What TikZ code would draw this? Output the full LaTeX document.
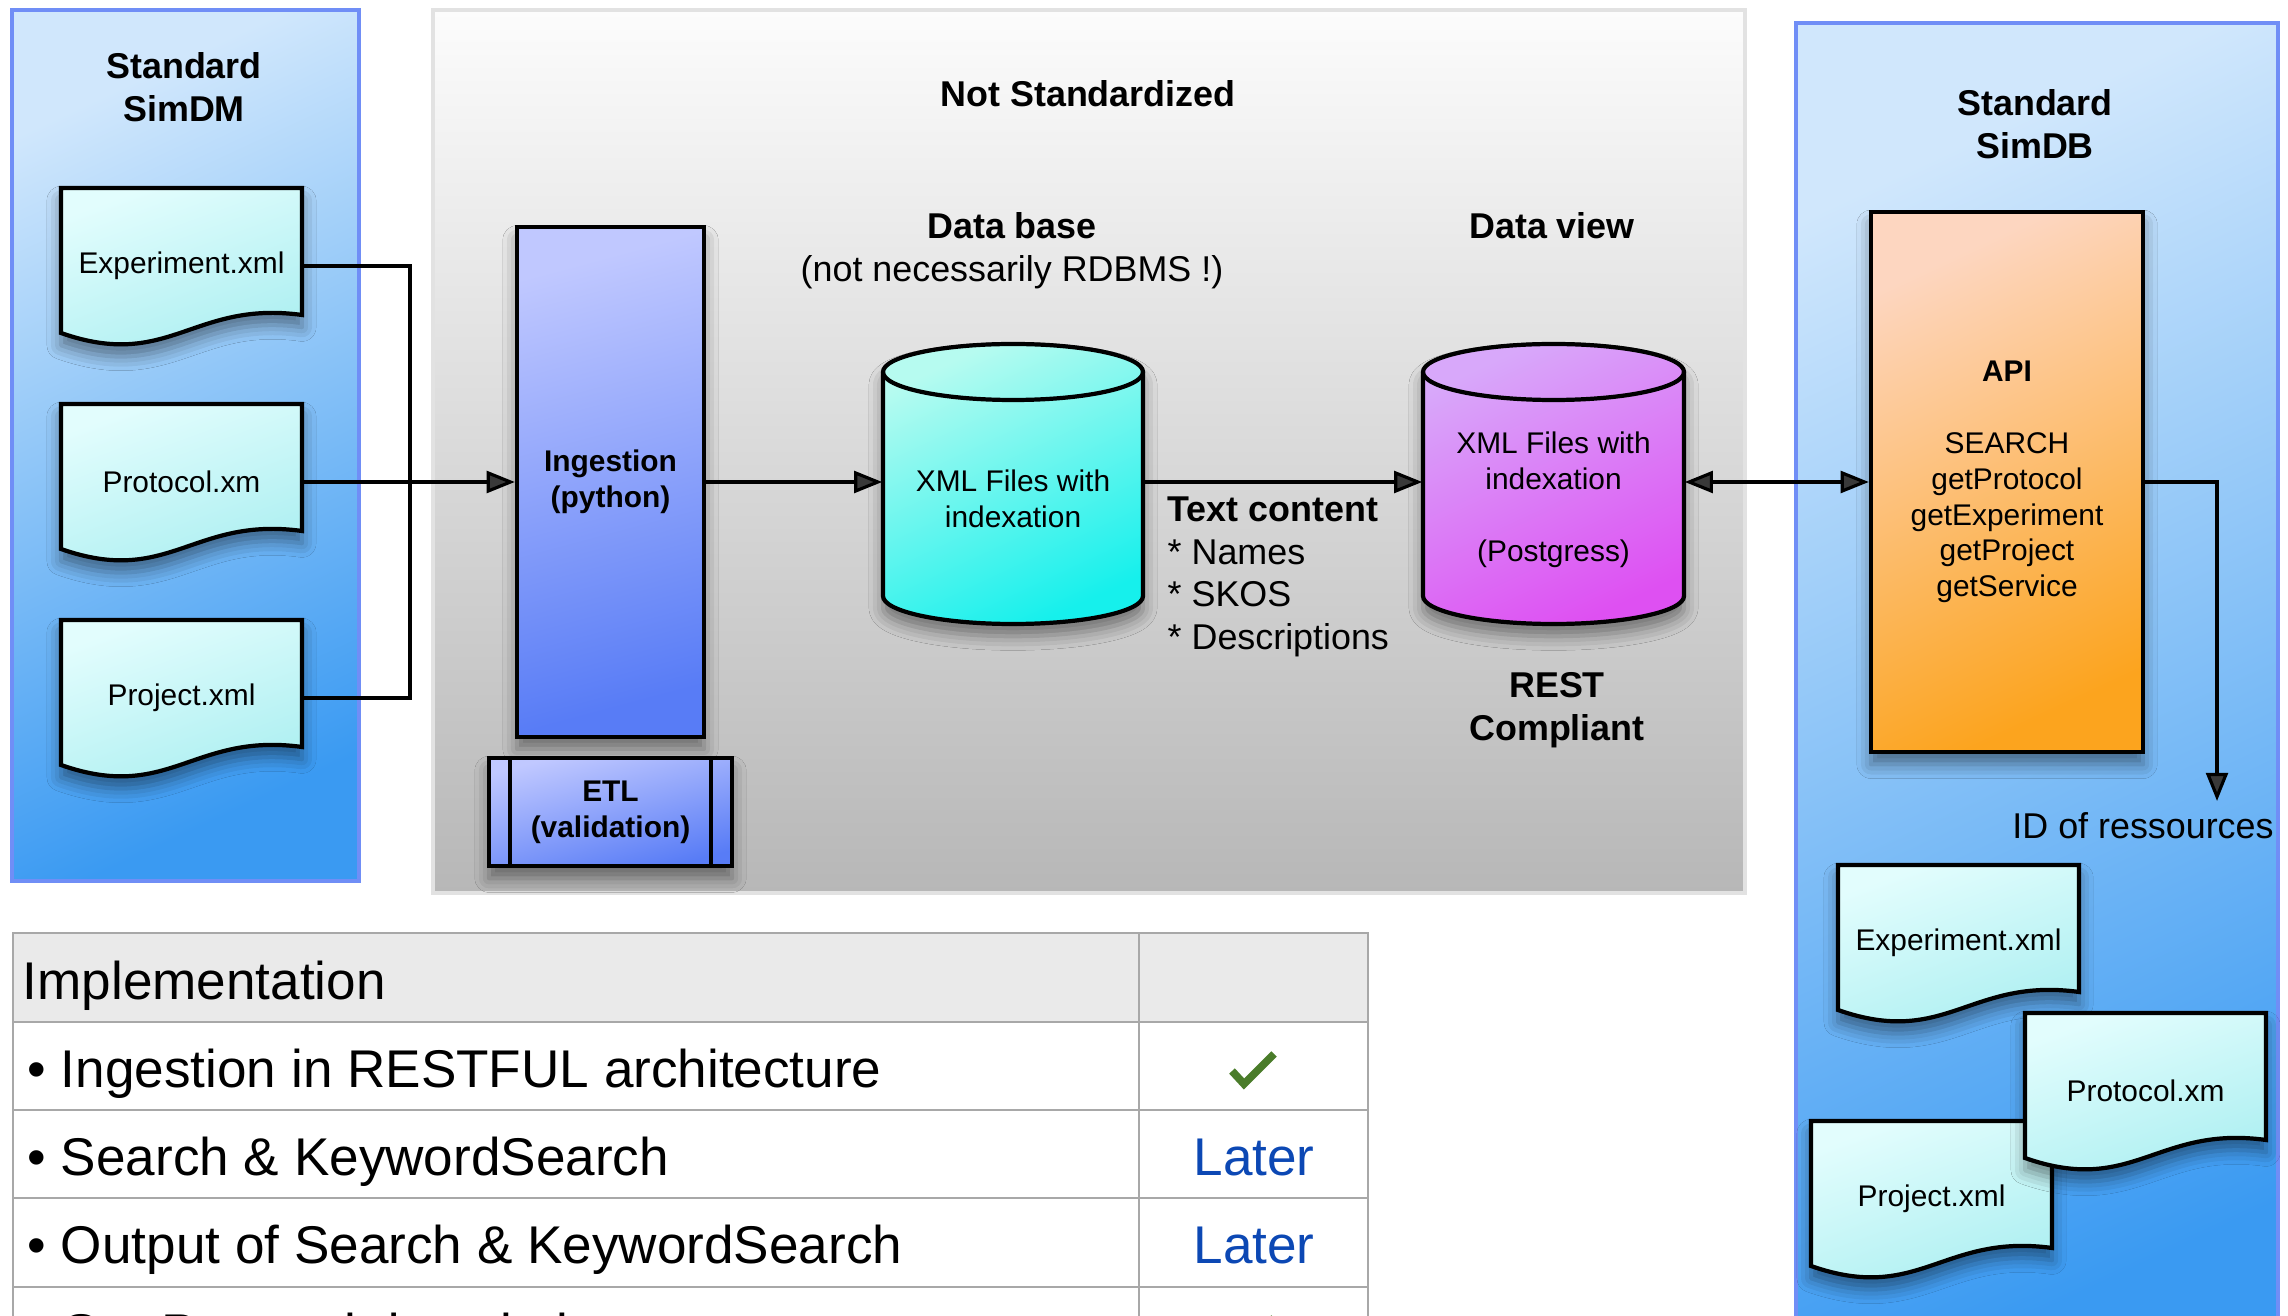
\documentclass[tikz,border=0pt]{standalone}
\usepackage{fontspec}
\setmainfont{Liberation Sans}
\usetikzlibrary{arrows.meta,shadows.blur}

\definecolor{paneltop}{RGB}{208,231,252}
\definecolor{panelbot}{RGB}{58,154,242}
\definecolor{panelline}{RGB}{112,142,246}
\definecolor{greytop}{RGB}{252,252,252}
\definecolor{greybot}{RGB}{183,183,183}
\definecolor{greyline}{RGB}{226,226,226}
\definecolor{papertop}{RGB}{226,253,253}
\definecolor{paperbot}{RGB}{168,238,240}
\definecolor{ingtop}{RGB}{192,200,255}
\definecolor{ingbot}{RGB}{88,124,246}
\definecolor{dbtop}{RGB}{182,251,240}
\definecolor{dbbot}{RGB}{22,240,236}
\definecolor{viewtop}{RGB}{216,168,250}
\definecolor{viewbot}{RGB}{222,80,242}
\definecolor{apitop}{RGB}{253,214,192}
\definecolor{apibot}{RGB}{252,164,30}
\definecolor{tablehead}{RGB}{234,234,234}
\definecolor{tableline}{RGB}{168,168,168}
\definecolor{donegreen}{RGB}{74,124,42}
\definecolor{laterblue}{RGB}{12,72,180}

\tikzset{
  bigtext/.style={font=\fontsize{10.2}{12.1}\selectfont, align=center},
  heading/.style={font=\fontsize{10.2}{12.1}\selectfont\bfseries, align=center},
  smalltext/.style={font=\fontsize{8.5}{10.2}\selectfont, align=center},
  boldsmall/.style={font=\fontsize{8.5}{10.2}\selectfont\bfseries, align=center},
  tabletext/.style={font=\fontsize{15.1}{18}\selectfont, anchor=base west, inner sep=0pt},
  flow/.style={line width=0.9pt, -{Triangle[length=8pt,width=6.2pt]}},
  wire/.style={line width=0.9pt},
  softshadow/.style={blur shadow={shadow xshift=0pt, shadow yshift=-3.5pt,
      shadow blur radius=4pt, shadow opacity=45}},
  box/.style={draw, line width=1.2pt, softshadow, smalltext, inner sep=0pt},
  panel/.style={draw=panelline, line width=0.9pt, top color=paneltop,
      bottom color=panelbot, shading angle=25},
  paper/.style={draw, line width=1.2pt, softshadow, top color=papertop,
      bottom color=paperbot, shading angle=20},
}

% xml page with a wavy lower edge, top left corner at (#2,#3)
\newcommand{\xmldoc}[4]{%
  \begin{scope}[shift={(#2,#3)}]
    \path[paper] (0,0) -- (241,0) -- (241,127)
      .. controls (132,112) and (108,183) .. (0,145) -- cycle;
    \node[smalltext, minimum width=2.41cm, inner sep=0pt] (#1) at (120.5,78) {#4};
  \end{scope}}

% storage drum, centre x #1, half width #2
\newcommand{\drum}[4]{%
  \path[draw, line width=1.2pt, softshadow, top color=#3, bottom color=#4, shading angle=25]
    (#1-#2,372) -- (#1-#2,596) arc[start angle=180, end angle=0, x radius=#2, y radius=28]
    -- (#1+#2,372) arc[start angle=0, end angle=-180, x radius=#2, y radius=28] -- cycle;
  \draw[line width=1.2pt] (#1-#2,372) arc[start angle=180, end angle=0, x radius=#2, y radius=28];}

\begin{document}
\begin{tikzpicture}[x=0.01cm, y=-0.01cm]
    \useasboundingbox (0,0) rectangle (2288,1316);
    \clip (0,0) rectangle (2288,1316);

    % the three areas
    \path[panel] (12,10) rectangle (359,881);
    \path[draw=greyline, line width=0.9pt, top color=greytop, bottom color=greybot] (433,10) rectangle (1745,893);
    \path[panel] (1796,23) rectangle (2278,1400);

    \node[heading] (simdmtitle) at (184,87) {Standard\\SimDM};
    \node[heading] (notstd) at (1088,94) {Not Standardized};
    \node[heading] (simdbtitle) at (2035,124) {Standard\\SimDB};

    % SimDM input files
    \xmldoc{expL}{61}{188}{Experiment.xml}
    \xmldoc{protL}{61}{404}{Protocol.xm}
    \xmldoc{projL}{61}{620}{Project.xml}

    % ingestion
    \node[box, boldsmall, minimum width=1.87cm, minimum height=5.09cm, top color=ingtop,
          bottom color=ingbot, shading angle=15] (ingest) at (610.5,482) {Ingestion\\(python)};
    \node[box, boldsmall, minimum width=2.43cm, minimum height=1.08cm, top color=ingtop,
          bottom color=ingbot, shading angle=15] (etl) at (610.5,812) {ETL\\(validation)};
    \draw[line width=1.2pt] ([xshift=0.235cm]etl.north west) -- ([xshift=0.235cm]etl.south west);
    \draw[line width=1.2pt] ([xshift=-0.235cm]etl.north east) -- ([xshift=-0.235cm]etl.south east);

    % data base and data view
    \node[bigtext] (dbtitle) at (1012,251) {\textbf{Data base}\\(not necessarily RDBMS !)};
    \drum{1013}{130}{dbtop}{dbbot}
    \node[minimum width=2.6cm, minimum height=2.8cm] (db) at (1013,482) {};
    \node[smalltext] (dbtext) at (1013,499) {XML Files with\\indexation};

    \node[heading] (viewtitle) at (1552,226) {Data view};
    \drum{1553.5}{130.5}{viewtop}{viewbot}
    \node[minimum width=2.61cm, minimum height=2.8cm] (view) at (1553.5,482) {};
    \node[smalltext] (viewtext) at (1553.5,500) {XML Files with\\indexation\\[10.2pt](Postgress)};
    \node[heading] (rest) at (1557,710) {REST\\Compliant};

    \node[bigtext, align=left, anchor=west, inner sep=0pt] (textcontent) at (1167,577)
        {\textbf{Text content}\\* Names\\* SKOS\\* Descriptions};

    % API
    \node[box, minimum width=2.72cm, minimum height=5.4cm, top color=apitop,
          bottom color=apibot, shading angle=25] (api) at (2007,482)
        {\textbf{API}\\[10.2pt]SEARCH\\getProtocol\\getExperiment\\getProject\\getService};
    \node[bigtext] (ids) at (2143,826) {ID of ressources};

    % SimDB output files
    \xmldoc{expR}{1838}{865}{Experiment.xml}
    \xmldoc{projR}{1811}{1121}{Project.xml}
    \xmldoc{protR}{2025}{1013}{Protocol.xm}

    % connectors
    \coordinate (merge) at (410,482);
    \draw[wire] (expL.east) -| (merge) |- (projL.east);
    \draw[flow] (protL.east) -- (ingest.west);
    \draw[flow] (ingest.east) -- (db.west);
    \draw[flow] (db.east) -- (view.west);
    \draw[line width=0.9pt, {Triangle[length=8pt,width=6.2pt]}-{Triangle[length=8pt,width=6.2pt]}] (view.east) -- (api.west);
    \coordinate (idtip) at (2217,801);
    \draw[flow] (api.east) -| (idtip);

    % implementation table
    \fill[tablehead] (13,933) rectangle (1368,1022);
    \draw[tableline, line width=0.6pt] (13,933) rectangle (1368,1400);
    \foreach \y in {1022,1110,1198,1287,1375}
        \draw[tableline, line width=0.6pt] (13,\y) -- (1368,\y);
    \draw[tableline, line width=0.6pt] (1139,933) -- (1139,1400);

    \node[tabletext] (implhead) at (22,999) {Implementation};
    \node[tabletext] (rowrest) at (27,1087) {\textbullet\ Ingestion in RESTFUL architecture};
    \node[tabletext] (rowsearch) at (27,1175) {\textbullet\ Search \& KeywordSearch};
    \node[tabletext] (rowoutput) at (27,1263) {\textbullet\ Output of Search \& KeywordSearch};
    \node[tabletext] (rowproto) at (27,1351) {\textbullet\ Get Protocol description};
    \node[tabletext, anchor=base, text=laterblue] (later1) at (1254,1175) {Later};
    \node[tabletext, anchor=base, text=laterblue] (later2) at (1254,1263) {Later};
    \foreach \dy in {0,264}
        \draw[donegreen, line width=2.2pt] (1232,1071+\dy) -- (1244,1084+\dy) -- (1274,1054+\dy);
\end{tikzpicture}
\end{document}
